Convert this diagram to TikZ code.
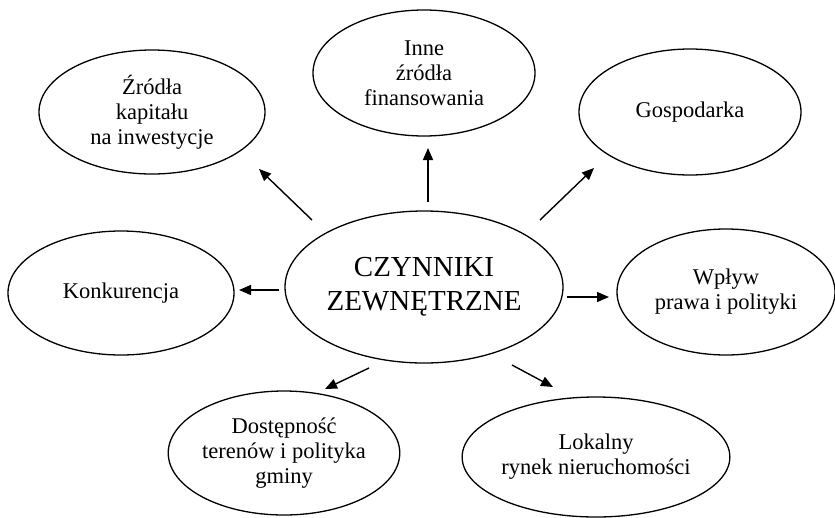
\documentclass[tikz,border=0pt]{standalone}
\usepackage{fontspec}
\setmainfont{Liberation Serif}
\usetikzlibrary{shapes.geometric,arrows.meta,calc}

\begin{document}
\begin{tikzpicture}[x=1pt,y=-1pt,
  oval/.style={draw, ellipse, line width=1.3pt, inner sep=0pt, align=center,
    font=\fontsize{22.5}{25}\selectfont},
  hub/.style={oval, font=\fontsize{29}{34}\selectfont},
  arr/.style={line width=1.4pt, -{Triangle[length=12pt,width=10pt]}}]
  \useasboundingbox (0,0) rectangle (835,517);

  % central factor
  \node[hub, minimum width=278pt, minimum height=152pt] (c) at (424,287)
    {CZYNNIKI\\ZEWNĘTRZNE};

  % surrounding factors
  \node[oval, minimum width=226pt, minimum height=124pt] (z1) at (152,112)
    {Źródła\\kapitału\\na inwestycje};
  \node[oval, minimum width=222pt, minimum height=126pt] (z2) at (424,73)
    {Inne\\źródła\\finansowania};
  \node[oval, minimum width=222pt, minimum height=126pt] (z3) at (690,112)
    {Gospodarka};
  \node[oval, minimum width=226pt, minimum height=124pt] (z4) at (121,293)
    {Konkurencja};
  \node[oval, minimum width=218pt, minimum height=126pt] (z5) at (726,292)
    {Wpływ\\prawa i polityki};
  \node[oval, minimum width=222pt, minimum height=124pt] (z6) at (284,453)
    {Dostępność\\terenów i polityka\\gminy};
  \node[oval, minimum width=222pt, minimum height=120pt] (z7) at (596,457)
    {Lokalny\\rynek nieruchomości};

  % arrows from the centre outwards
  \draw[arr] ($(c.center)+(-112,-67)$) -- ($(z1.center)+(107,57)$);
  \draw[arr] ($(c.center)+(4,-85)$)    -- ($(z2.center)+(4,75)$);
  \draw[arr] ($(c.center)+(116,-67)$)  -- ($(z3.center)+(-96,56)$);
  \draw[arr] ($(c.center)+(-145,3)$)   -- ($(z4.center)+(118,-3)$);
  \draw[arr] ($(c.center)+(143,10)$)   -- ($(z5.center)+(-117,5)$);
  \draw[arr] ($(c.center)+(-55,81)$)   -- ($(z6.center)+(41,-64)$);
  \draw[arr] ($(c.center)+(88,78)$)    -- ($(z7.center)+(-43,-70)$);
\end{tikzpicture}
\end{document}
